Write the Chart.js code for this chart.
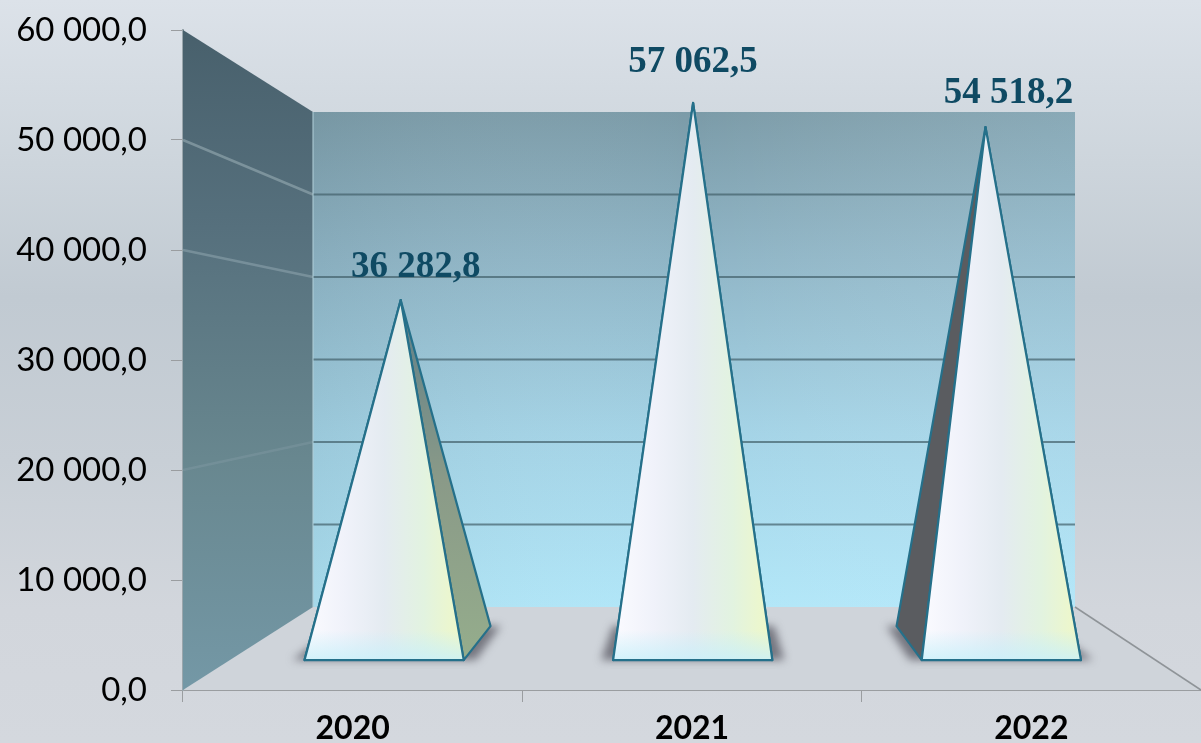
<!DOCTYPE html>
<html>
<head>
<meta charset="utf-8">
<title>Chart</title>
<script src="https://cdn.jsdelivr.net/npm/chart.js@4/dist/chart.umd.min.js"></script>
<style>
html, body { margin: 0; padding: 0; width: 1201px; height: 743px; overflow: hidden; }
body { background: linear-gradient(180deg, #dce2e9 0%, #cdd5dc 22%, #c1cad2 40%, #c8cfd6 62%, #d2d6dc 82%, #d4d8de 100%); }
canvas { display: block; }
</style>
</head>
<body>
<canvas id="pyramidChart" width="1201" height="743"></canvas>
<script>
const years = ['2020', '2021', '2022'];
const values = [36282.8, 57062.5, 54518.2];
const valueLabels = ['36 282,8', '57 062,5', '54 518,2'];
const yTicks = [0, 10000, 20000, 30000, 40000, 50000, 60000];
const yTickLabels = ['0,0', '10 000,0', '20 000,0', '30 000,0', '40 000,0', '50 000,0', '60 000,0'];

// how the flat scales are pushed back into the fake 3D box
const box = { insetLeft: 130, insetRight: 126, drop: 83, shrink: 0.75 };
const baseFront = 0.36, apexDepth = 0.55, baseBack = 0.77, baseWidth = 0.258;
const labelShift = [[15, -33], [0, -41], [23, -34]];

function project(chart, frontX, value, t) {
    const xs = chart.scales.x, ys = chart.scales.y;
    const u = (frontX - xs.left) / (xs.right - xs.left);
    const left = xs.left + box.insetLeft * t;
    const right = xs.right - box.insetRight * t;
    const y0 = ys.getPixelForValue(value);
    const y1 = ys.bottom - box.drop - (ys.bottom - y0) * box.shrink;
    return [left + u * (right - left), y0 + (y1 - y0) * t];
}

function poly(ctx, pts) {
    ctx.beginPath();
    pts.forEach((p, i) => i ? ctx.lineTo(p[0], p[1]) : ctx.moveTo(p[0], p[1]));
    ctx.closePath();
}

function linear(ctx, x0, y0, x1, y1, stops) {
    const g = ctx.createLinearGradient(x0, y0, x1, y1);
    stops.forEach(s => g.addColorStop(s[0], s[1]));
    return g;
}

const box3d = {
    id: 'box3d',
    beforeDatasetsDraw(chart) {
        const ctx = chart.ctx, xs = chart.scales.x;
        const max = yTicks[yTicks.length - 1];
        const fl = project(chart, xs.left, 0, 0), fr = project(chart, xs.right, 0, 0);
        const bl = project(chart, xs.left, 0, 1), br = project(chart, xs.right, 0, 1);
        const tfl = project(chart, xs.left, max, 0), tbl = project(chart, xs.left, max, 1), tbr = project(chart, xs.right, max, 1);
        ctx.save();

        // floor
        poly(ctx, [fl, fr, br, bl]);
        ctx.fillStyle = '#cfd4da';
        ctx.fill();
        ctx.strokeStyle = '#8f9498';
        ctx.lineWidth = 1.5;
        ctx.beginPath();
        ctx.moveTo(br[0], br[1]);
        ctx.lineTo(fr[0], fr[1]);
        ctx.stroke();

        // back wall
        poly(ctx, [tbl, tbr, br, bl]);
        ctx.fillStyle = linear(ctx, 0, tbl[1], 0, bl[1], [[0, '#7b9ba8'], [0.3, '#8fb5c6'], [0.65, '#a3d3e6'], [1, '#b0e6f8']]);
        ctx.fill();
        poly(ctx, [tbl, tbr, br, bl]);
        ctx.fillStyle = linear(ctx, bl[0], 0, br[0], 0, [[0, 'rgba(90,120,130,0.12)'], [0.5, 'rgba(255,255,255,0)'], [1, 'rgba(200,235,250,0.18)']]);
        ctx.fill();

        // side wall
        poly(ctx, [tfl, tbl, bl, fl]);
        ctx.fillStyle = linear(ctx, 0, tfl[1], 0, fl[1], [[0, '#48606c'], [0.3, '#56707d'], [0.65, '#68878f'], [1, '#7498a6']]);
        ctx.fill();

        // grid lines on the walls
        yTicks.slice(1, -1).forEach((v, i) => {
            const a = project(chart, xs.left, v, 0), b = project(chart, xs.left, v, 1), c = project(chart, xs.right, v, 1);
            ctx.strokeStyle = 'rgba(66,96,106,0.7)';
            ctx.lineWidth = 2;
            ctx.beginPath();
            ctx.moveTo(b[0], b[1]);
            ctx.lineTo(c[0], c[1]);
            ctx.stroke();
            ctx.strokeStyle = 'rgba(165,185,192,' + [0, 0.18, 0, 0.4, 0.5][i] + ')';
            ctx.lineWidth = 2.5;
            ctx.beginPath();
            ctx.moveTo(a[0], a[1]);
            ctx.lineTo(b[0], b[1]);
            ctx.stroke();
        });

        // light edge where the two walls meet
        ctx.strokeStyle = 'rgba(175,205,215,0.7)';
        ctx.lineWidth = 1.5;
        ctx.beginPath();
        ctx.moveTo(tbl[0], tbl[1]);
        ctx.lineTo(bl[0], bl[1]);
        ctx.stroke();
        ctx.restore();
    }
};

const pyramids = {
    id: 'pyramids',
    afterDatasetsDraw(chart) {
        const ctx = chart.ctx, xs = chart.scales.x;
        const band = (xs.right - xs.left) / years.length;
        ctx.save();
        values.forEach((v, i) => {
            const cx = xs.getPixelForValue(i);
            const half = band * baseWidth;
            const fl = project(chart, cx - half, 0, baseFront), fr = project(chart, cx + half, 0, baseFront);
            const bl = project(chart, cx - half, 0, baseBack), br = project(chart, cx + half, 0, baseBack);
            const apex = project(chart, cx, v, apexDepth);

            // soft shadow on the floor
            ctx.save();
            ctx.filter = 'blur(4px)';
            ctx.fillStyle = 'rgba(95,95,105,0.8)';
            poly(ctx, [[fl[0] - 12, fl[1]], [fr[0] + 12, fr[1]], [br[0] + 10, br[1]], [bl[0] - 10, bl[1]]]);
            ctx.fill();
            ctx.restore();

            // side faces, the front face hides them when they are behind it
            ctx.strokeStyle = '#25708a';
            ctx.lineWidth = 2.2;
            ctx.lineJoin = 'round';
            poly(ctx, [apex, fl, bl]);
            ctx.fillStyle = '#5a5c60';
            ctx.fill();
            ctx.stroke();
            poly(ctx, [apex, fr, br]);
            ctx.fillStyle = linear(ctx, 0, apex[1], 0, fr[1], [[0, '#5f7f88'], [0.5, '#8a9a88'], [1, '#95ad8c']]);
            ctx.fill();
            ctx.stroke();

            // front face
            poly(ctx, [apex, fr, fl]);
            ctx.fillStyle = linear(ctx, fl[0], 0, fr[0], 0, [[0, '#fbfbff'], [0.25, '#f0f2fa'], [0.5, '#e4ebf1'], [0.75, '#e2f3e0'], [1, '#f0f8c6']]);
            ctx.fill();
            poly(ctx, [apex, fr, fl]);
            ctx.fillStyle = linear(ctx, 0, fl[1] - 30, 0, fl[1], [[0, 'rgba(200,240,250,0)'], [1, 'rgba(200,240,250,0.8)']]);
            ctx.fill();
            poly(ctx, [apex, fr, fl]);
            ctx.stroke();

            ctx.fillStyle = '#0f4a63';
            ctx.font = 'bold 37px "Liberation Serif"';
            ctx.textAlign = 'center';
            ctx.textBaseline = 'middle';
            ctx.fillText(valueLabels[i], apex[0] + labelShift[i][0], apex[1] + labelShift[i][1]);
        });
        ctx.restore();
    }
};

new Chart(document.getElementById('pyramidChart').getContext('2d'), {
    type: 'bar',
    data: {
        labels: years,
        datasets: [{ data: values, backgroundColor: 'rgba(0,0,0,0)' }]
    },
    options: {
        responsive: false,
        animation: false,
        layout: { padding: { top: 30, right: 0, left: 0, bottom: 0 } },
        plugins: { legend: { display: false }, tooltip: { enabled: false } },
        scales: {
            x: {
                afterFit(scale) { scale.height = 53; },
                grid: { offset: true, drawOnChartArea: false, tickLength: 12, color: '#9a9da0' },
                border: { color: '#9a9da0', width: 2 },
                ticks: { color: '#000', padding: 7, maxRotation: 0, font: { family: 'Lato', weight: 'bold', size: 32 } }
            },
            y: {
                min: 0,
                max: 60000,
                afterFit(scale) { scale.width = 183; scale.paddingTop = 0; scale.paddingBottom = 0; },
                afterBuildTicks(scale) { scale.ticks = yTicks.map(v => ({ value: v })); },
                grid: { drawOnChartArea: false, tickLength: 12, color: '#9a9da0' },
                border: { color: '#9aa6ac', width: 2 },
                ticks: {
                    color: '#000',
                    padding: 24,
                    font: { family: 'Lato', size: 33 },
                    callback: v => yTickLabels[yTicks.indexOf(v)]
                }
            }
        }
    },
    plugins: [box3d, pyramids]
});
</script>
</body>
</html>
